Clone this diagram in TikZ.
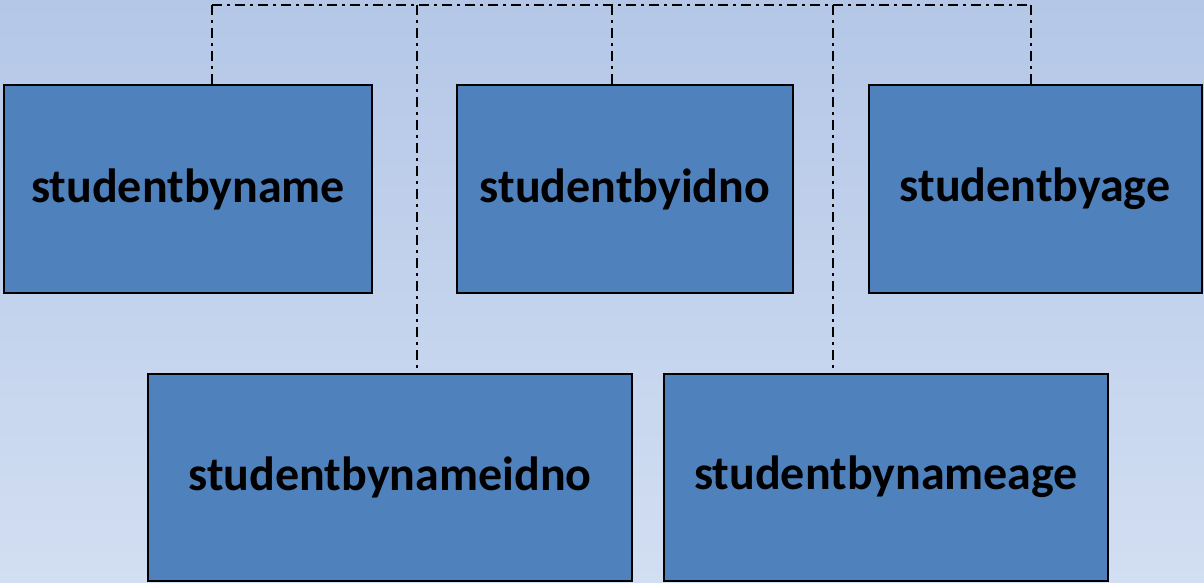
\documentclass[tikz,border=0pt]{standalone}
\usepackage{fontspec}
\setmainfont{Carlito}
\definecolor{bgtop}{RGB}{180,199,231}
\definecolor{bgbot}{RGB}{210,222,242}
\definecolor{boxfill}{RGB}{79,129,189}
\begin{document}
\begin{tikzpicture}[x=1pt,y=-1pt,
  tbl/.style={draw=black,line width=2pt,fill=boxfill,inner sep=0pt,
    font=\fontsize{48}{56}\selectfont\bfseries},
  link/.style={draw=black,line width=1.8pt,dash pattern=on 10pt off 5pt on 3pt off 5pt}]
  % background
  \shade[top color=bgtop,bottom color=bgbot] (0,0) rectangle (1204,582);
  \useasboundingbox (0,0) rectangle (1204,582);
  % tables
  \node[tbl,minimum width=368pt,minimum height=208pt] (byname) at (188,189) {\raisebox{-3pt}{studentbyname}};
  \node[tbl,minimum width=336pt,minimum height=208pt] (byidno) at (625,189) {\raisebox{-3pt}{studentbyidno}};
  \node[tbl,minimum width=333pt,minimum height=208pt] (byage) at (1035,189) {\raisebox{-3pt}{studentbyage}};
  \node[tbl,minimum width=484pt,minimum height=207pt] (bynameidno) at (390,477) {\raisebox{-3pt}{studentbynameidno}};
  \node[tbl,minimum width=444pt,minimum height=207pt] (bynameage) at (886,477) {\raisebox{-3pt}{studentbynameage}};
  % shared bus
  \coordinate (busL) at (212,5);
  \coordinate (busR) at (1031,5);
  \draw[link] (busL) -- (busR);
  \draw[link] (busL) -- (busL |- byname.north);
  \draw[link] (busR) -- (busR |- byage.north);
  \draw[link] (612,5) -- (612,0 |- byidno.north);
  \draw[link] (417,5) -- (417,0 |- bynameidno.north);
  \draw[link] (833,5) -- (833,0 |- bynameage.north);
\end{tikzpicture}
\end{document}
